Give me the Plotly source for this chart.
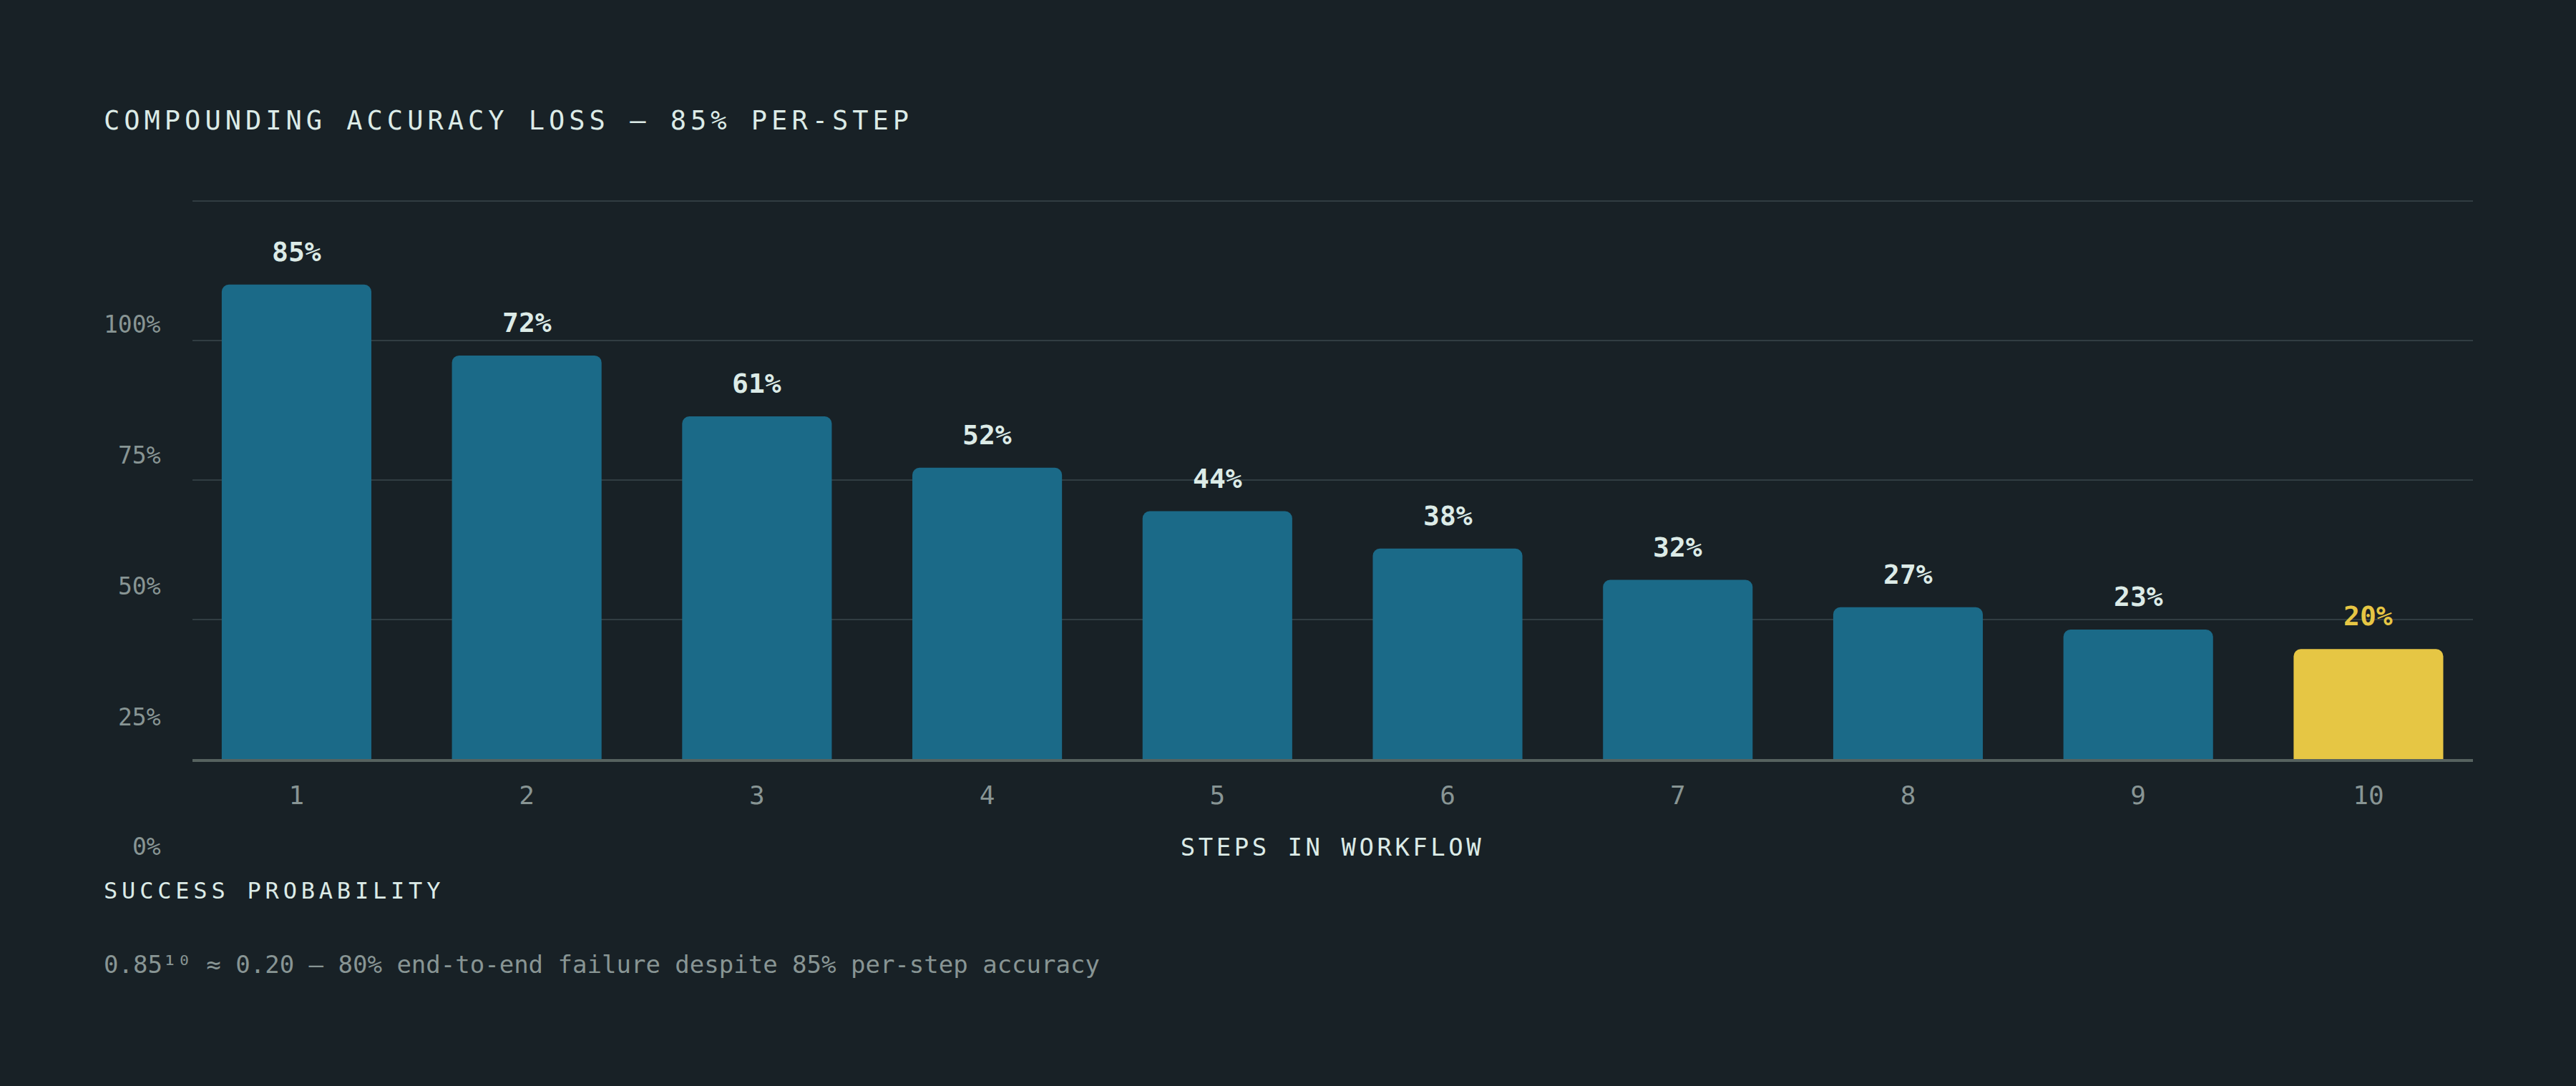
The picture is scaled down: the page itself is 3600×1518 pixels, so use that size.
import json
import plotly.graph_objects as go

# ---- data ----
steps = [1, 2, 3, 4, 5, 6, 7, 8, 9, 10]
success = [85, 72.3, 61.4, 52.2, 44.4, 37.7, 32.1, 27.2, 23.2, 19.7]
value_labels = ["85%", "72%", "61%", "52%", "44%", "38%", "32%", "27%", "23%", "20%"]
y_tick_vals = [0, 25, 50, 75, 100]
y_tick_labels = ["100%", "75%", "50%", "25%", "0%"]
highlight_step = 10

title_text = "COMPOUNDING ACCURACY LOSS — 85% PER-STEP"
x_title = "STEPS IN WORKFLOW"
y_title = "SUCCESS PROBABILITY"
footer_text = "0.85¹⁰ ≈ 0.20 — 80% end-to-end failure despite 85% per-step accuracy"

# ---- style ----
BG = "#182126"
BLUE = "#1b6a88"
YELLOW = "#e6c644"
GRID = "#313d42"
BASE = "#56625f"
TEXT = "#dcebe7"
MUTED = "#889594"
FONT = "DejaVu Sans Mono"

W, H = 3600, 1518
L, R, T, B = 269, 144, 273, 457
plot_h = H - T - B

colors = [YELLOW if s == highlight_step else BLUE for s in steps]

fig = go.Figure(
    go.Bar(
        x=steps,
        y=success,
        width=0.65,
        marker=dict(color=colors, line=dict(width=0), cornerradius=10),
        hoverinfo="skip",
    )
)

annotations = []
for s, v, lab in zip(steps, success, value_labels):
    annotations.append(dict(
        x=s, y=v, xref="x", yref="y", text=lab, showarrow=False,
        yanchor="middle", yshift=46,
        font=dict(family=FONT, size=38, weight="bold",
                  color=YELLOW if s == highlight_step else TEXT),
    ))

# y-axis labels (laid out in their own column, offset from gridlines as in the reference)
label_px = [453, 636, 819, 1002, 1183]
for lab, py in zip(y_tick_labels, label_px):
    annotations.append(dict(
        x=0, xref="paper", xshift=-42, xanchor="right",
        y=(H - B - py) / plot_h, yref="paper", yanchor="middle",
        text=lab, showarrow=False,
        font=dict(family=FONT, size=33, color=MUTED),
    ))

def left_text(txt, py, size, color):
    return dict(
        x=0, xref="paper", xshift=143 - L, xanchor="left",
        y=(H - B - py) / plot_h, yref="paper", yanchor="middle",
        text=txt, showarrow=False, font=dict(family=FONT, size=size, color=color),
    )

annotations.append(left_text(title_text, 168, 37, TEXT))
annotations.append(left_text(y_title, 1245, 32, TEXT))
annotations.append(left_text(footer_text, 1348, 34, MUTED))
annotations.append(dict(
    x=0.5, xref="paper", xanchor="center",
    y=(H - B - 1184) / plot_h, yref="paper", yanchor="middle",
    text=x_title, showarrow=False, font=dict(family=FONT, size=34, color=TEXT),
))

fig.update_layout(
    width=W, height=H,
    margin=dict(l=L, r=R, t=T, b=B),
    paper_bgcolor=BG, plot_bgcolor=BG,
    showlegend=False,
    annotations=annotations,
    xaxis=dict(
        range=[0.548, 10.454], tickvals=steps, ticktext=[str(s) for s in steps],
        showgrid=False, zeroline=False,
        showline=True, linecolor=BASE, linewidth=4,
        ticks="", ticklabelstandoff=16,
        tickfont=dict(family=FONT, size=36, color=MUTED),
    ),
    yaxis=dict(
        range=[0, 101], tickvals=y_tick_vals, showticklabels=False,
        showgrid=True, gridcolor=GRID, gridwidth=2,
        zeroline=False, showline=False, ticks="",
    ),
)

spacing = {title_text: "6px", y_title: "5.8px", x_title: "4.5px"}
left_anchored = [title_text, y_title]
post = (
    "document.documentElement.style.background='%s';"
    "document.body.style.margin='0';document.body.style.background='%s';"
    "var sp=%s;var la=%s;"
    "document.querySelectorAll('text').forEach(function(t){"
    "var v=sp[t.textContent];if(!v){return;}"
    "var bb=t.getBBox();t.style.letterSpacing=v;"
    "if(la.indexOf(t.textContent)>=0){t.setAttribute('text-anchor','start');t.setAttribute('x',bb.x);}"
    "});"
) % (BG, BG, json.dumps(spacing), json.dumps(left_anchored))

fig.write_html("out.html", post_script=post, config={"displayModeBar": False})
